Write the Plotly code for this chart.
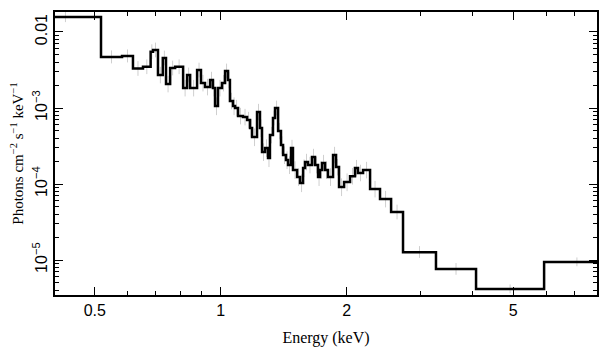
import plotly.graph_objects as go

# Bin edges (keV) and unfolded flux (photons cm^-2 s^-1 keV^-1)
edges_keV = [0.35, 0.5175, 0.581, 0.617, 0.652, 0.680, 0.689, 0.708, 0.727, 0.740,
             0.757, 0.778, 0.813, 0.831, 0.845, 0.878, 0.897, 0.917, 0.943, 0.958,
             0.969, 0.985, 1.007, 1.024, 1.041, 1.052, 1.070, 1.082, 1.100, 1.130,
             1.156, 1.175, 1.188, 1.221, 1.241, 1.255, 1.276, 1.297, 1.311, 1.333,
             1.348, 1.371, 1.393, 1.409, 1.432, 1.448, 1.472, 1.488, 1.522, 1.547,
             1.573, 1.590, 1.616, 1.652, 1.680, 1.708, 1.727, 1.746, 1.775, 1.804,
             1.855, 1.886, 1.917, 1.971, 2.037, 2.093, 2.128, 2.188, 2.274, 2.402,
             2.553, 2.726, 3.268, 4.074, 5.924, 8.5]

flux = [1.575e-2, 4.69e-3, 4.83e-3, 3.31e-3, 3.49e-3, 5.51e-3, 5.80e-3, 2.72e-3, 4.55e-3, 2.07e-3,
        3.36e-3, 3.49e-3, 1.83e-3, 2.72e-3, 1.83e-3, 3.16e-3, 2.13e-3, 1.89e-3, 2.34e-3, 1.83e-3,
        1.06e-3, 1.83e-3, 2.13e-3, 3.07e-3, 2.34e-3, 1.24e-3, 1.06e-3, 1.00e-3, 7.85e-4, 7.61e-4,
        6.95e-4, 5.46e-4, 4.15e-4, 8.86e-4, 5.46e-4, 2.64e-4, 2.98e-4, 2.20e-4, 4.41e-4, 7.39e-4,
        1.00e-3, 4.98e-4, 3.26e-4, 2.41e-4, 2.07e-4, 1.78e-4, 2.98e-4, 1.53e-4, 1.24e-4, 1.03e-4,
        1.62e-4, 1.95e-4, 1.78e-4, 2.27e-4, 1.78e-4, 1.24e-4, 1.53e-4, 1.89e-4, 1.53e-4, 1.24e-4,
        2.41e-4, 1.67e-4, 9.13e-5, 1.06e-4, 1.27e-4, 1.62e-4, 1.40e-4, 1.53e-4, 8.59e-5, 6.35e-5,
        4.28e-5, 1.27e-5, 7.61e-6, 4.15e-6, 9.41e-6]

# relative 1-sigma errors of the data crosses (estimated)
rel_err = [0.18, 0.22, 0.22, 0.25, 0.25, 0.25, 0.25, 0.28, 0.25, 0.28,
           0.25, 0.25, 0.28, 0.25, 0.28, 0.25, 0.28, 0.28, 0.28, 0.28,
           0.30, 0.28, 0.28, 0.25, 0.28, 0.28, 0.30, 0.28, 0.28, 0.28,
           0.28, 0.30, 0.30, 0.28, 0.30, 0.30, 0.30, 0.30, 0.28, 0.25,
           0.25, 0.28, 0.30, 0.30, 0.30, 0.30, 0.28, 0.30, 0.30, 0.30,
           0.30, 0.28, 0.28, 0.28, 0.28, 0.30, 0.30, 0.28, 0.30, 0.30,
           0.28, 0.28, 0.30, 0.30, 0.28, 0.28, 0.28, 0.28, 0.28, 0.28,
           0.25, 0.20, 0.20, 0.15, 0.15]

x_tickvals = [0.5, 1, 2, 5]
x_ticktext = ["0.5", "1", "2", "5"]
x_minor = [0.4, 0.6, 0.7, 0.8, 0.9, 3, 4, 6, 7]
y_tickvals = [1e-5, 1e-4, 1e-3, 1e-2]
y_ticktext = ["10<sup>\u22125</sup>", "10<sup>\u22124</sup>", "10<sup>\u22123</sup>", "0.01"]
y_minor = [m * 10.0 ** d for d in (-6, -5, -4, -3, -2) for m in range(2, 10)]

assert len(edges_keV) == len(flux) + 1 == len(rel_err) + 1

# step outline
xs, ys = [], []
for i, v in enumerate(flux):
    xs += [edges_keV[i], edges_keV[i + 1]]
    ys += [v, v]

centers = [(edges_keV[i] * edges_keV[i + 1]) ** 0.5 for i in range(len(flux))]
err = [f * r for f, r in zip(flux, rel_err)]

fig = go.Figure()
fig.add_trace(go.Scatter(
    x=centers, y=flux, mode="markers",
    marker=dict(size=1, color="rgba(0,0,0,0)"),
    error_y=dict(type="data", array=err, arrayminus=[e * 0.8 for e in err],
                 color="#cfcfcf", thickness=1, width=0),
    hoverinfo="skip", showlegend=False))
fig.add_trace(go.Scatter(x=xs, y=ys, mode="lines",
                         line=dict(color="black", width=2.5),
                         showlegend=False))

axis_common = dict(showline=True, linecolor="black", linewidth=1.5, mirror="allticks",
                   ticks="inside", ticklen=8, tickwidth=1, tickcolor="black",
                   showgrid=False, zeroline=False, automargin=False,
                   tickfont=dict(family="Liberation Sans, Arial", size=16, color="black"))

fig.update_xaxes(type="log", range=[-0.396, 0.899], tickmode="array",
                 tickvals=x_tickvals, ticktext=x_ticktext,
                 minor=dict(tickmode="array", tickvals=x_minor, ticks="inside",
                            ticklen=4, tickcolor="black", tickwidth=1),
                 title=dict(text="Energy (keV)",
                            font=dict(family="Liberation Serif, Times New Roman", size=16, color="black"),
                            standoff=14),
                 **axis_common)
fig.update_yaxes(type="log", range=[-5.46, -1.737], tickmode="array",
                 tickvals=y_tickvals, ticktext=y_ticktext, tickangle=-90,
                 minor=dict(tickmode="array", tickvals=y_minor, ticks="inside",
                            ticklen=4, tickcolor="black", tickwidth=1),
                 title=dict(text="Photons cm<sup>\u22122</sup> s<sup>\u22121</sup> keV<sup>\u22121</sup>",
                            font=dict(family="Liberation Serif, Times New Roman", size=15, color="black"),
                            standoff=3),
                 **axis_common)

# the page adds an 8 px body margin, so the figure is sized to fit the window
fig.update_layout(width=601, height=349,
                  margin=dict(l=47, r=12, t=4, b=62),
                  paper_bgcolor="white", plot_bgcolor="white",
                  showlegend=False)

fig.write_html("out.html")
